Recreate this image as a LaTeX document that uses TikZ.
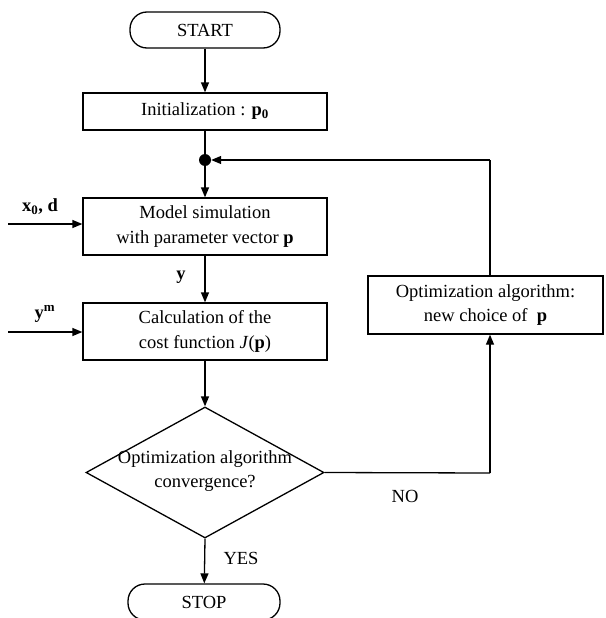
\documentclass[tikz,border=0pt]{standalone}
\usepackage{fontspec}
\setmainfont{Liberation Serif}
\usetikzlibrary{shapes.geometric,arrows.meta}
\begin{document}
\begin{tikzpicture}[x=1pt,y=-1pt,
  font=\fontsize{18.5}{24.5}\selectfont,
  box/.style={draw,line width=1.3pt,rectangle,align=center,inner sep=0pt},
  term/.style={draw,line width=1.3pt,rounded corners=17pt,align=center,inner sep=0pt},
  dec/.style={draw,line width=1.3pt,diamond,align=center,inner sep=0pt},
  conn/.style={line width=1.3pt,-{Triangle[length=10pt,width=8pt]}},
  plain/.style={line width=1.3pt}]
\useasboundingbox (0,0) rectangle (605,618);
\node[term,minimum width=150pt,minimum height=36pt] (start) at (205,30) {START};
\node[box,minimum width=244pt,minimum height=37pt] (init) at (205,111.5) {Initialization : \textbf{p}\textsubscript{\textbf{0}}};
\node[circle,fill=black,inner sep=0pt,minimum size=12pt] (dot) at (205,160) {};
\node[box,minimum width=244pt,minimum height=57pt] (model) at (205,226.5) {Model simulation\\with parameter vector \textbf{p}};
\node[box,minimum width=244pt,minimum height=57pt] (calc) at (205,331.5) {Calculation of the\\cost function \textit{J}(\textbf{p})};
\node[dec,minimum width=238pt,minimum height=131pt] (conv) at (205,472.5) {};
\node[align=center,inner sep=0pt] (convt) at (205,471) {Optimization algorithm\\convergence?};
\node[term,minimum width=152pt,minimum height=36pt] (stop) at (204,602) {STOP};
\node[box,minimum width=235pt,minimum height=58pt] (opt) at (485.5,305) {Optimization algorithm:\\new choice of \ \textbf{p}};
\coordinate (x0s) at (8,224);
\coordinate (yms) at (8,332);
\coordinate (c1) at (490,473);
\coordinate (c2) at (490,160);
\node[inner sep=0pt] (x0l) at (40,207) {\textbf{x}\textsubscript{\textbf{0}}\textbf{, d}};
\node[inner sep=0pt] (yml) at (45,314) {\textbf{y}\textsuperscript{\textbf{m}}};
\node[inner sep=0pt] (yl) at (181,277) {\textbf{y}};
\node[inner sep=0pt] (yes) at (241,558) {YES};
\node[inner sep=0pt] (no) at (405,496) {NO};
\draw[conn] (start) -- (init);
\draw[plain] (init) -- (dot);
\draw[conn] (dot) -- (model);
\draw[conn] (model) -- (calc);
\draw[conn] (calc) -- (conv.north);
\draw[conn] (conv.south) -- (stop);
\draw[conn] (x0s) -- (model.west |- x0s);
\draw[conn] (yms) -- (calc.west |- yms);
\draw[plain] (conv.east) -- (c1);
\draw[conn] (c1) -- (opt.south -| c1);
\draw[plain] (opt.north -| c2) -- (c2);
\draw[conn] (c2) -- (dot);
\end{tikzpicture}
\end{document}
